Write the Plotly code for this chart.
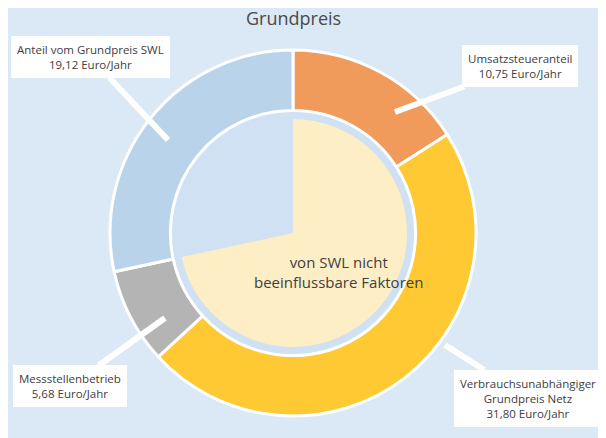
import plotly.graph_objects as go

labels = ["Umsatzsteueranteil", "Verbrauchsunabhängiger Grundpreis Netz", "Messstellenbetrieb", "Anteil vom Grundpreis SWL"]
values = [10.75, 31.80, 5.68, 19.12]
colors = ["#f09a5c", "#ffc933", "#b4b4b4", "#b9d3ea"]
inner_labels = ["von SWL nicht beeinflussbare Faktoren", "SWL"]
inner_values = [10.75 + 31.80 + 5.68, 19.12]

# page has 8px body margin, so the figure is 598x430 shifted by 8px
OFF = 8
W, H = 606 - OFF, 438 - OFF
cx, cy = 293, 233


def px_x(x):
    return (x - OFF) / W


def px_y(y):
    return 1 - (y - OFF) / H


fig = go.Figure()
fig.add_trace(go.Pie(
    labels=labels, values=values, sort=False, direction="clockwise", rotation=0,
    hole=0.67, marker=dict(colors=colors, line=dict(color="white", width=3)),
    textinfo="none", hoverinfo="label+value", showlegend=False,
    domain=dict(x=[px_x(cx - 183), px_x(cx + 183)], y=[px_y(cy + 183), px_y(cy - 183)]),
))
fig.add_trace(go.Pie(
    labels=inner_labels, values=inner_values, sort=False, direction="clockwise", rotation=0,
    marker=dict(colors=["#fdeec6", "rgba(0,0,0,0)"], line=dict(width=0)),
    textinfo="none", hoverinfo="label", showlegend=False,
    domain=dict(x=[px_x(cx - 114), px_x(cx + 114)], y=[px_y(cy + 114), px_y(cy - 114)]),
))

# pale ring behind inner pie
fig.add_shape(type="circle", xref="paper", yref="paper", layer="below",
              x0=px_x(cx - 123), x1=px_x(cx + 123), y0=px_y(cy + 123), y1=px_y(cy - 123),
              fillcolor="#cfe1f2", line=dict(color="#b3cde6", width=1))

box = dict(bgcolor="white", bordercolor="white", borderpad=5, showarrow=True,
           arrowhead=0, arrowwidth=6, arrowcolor="white", align="center",
           font=dict(family="Open Sans", size=11.5, color="#404040"),
           xref="paper", yref="paper", axref="pixel", ayref="pixel")
callouts = [
    ("Anteil vom Grundpreis SWL<br>19,12 Euro/Jahr", 168, 140, -78, -83),
    ("Umsatzsteueranteil<br>10,75 Euro/Jahr", 395, 112, 125, -46),
    ("Messstellenbetrieb<br>5,68 Euro/Jahr", 165, 318, -95, 68),
    ("Verbrauchsunabhängiger<br>Grundpreis Netz<br>31,80 Euro/Jahr", 445, 345, 83, 53),
]
annotations = []
for text, x, y, ax, ay in callouts:
    a = dict(box, text=text, x=px_x(x), y=px_y(y), ax=ax, ay=ay)
    annotations.append(a)
annotations.append(dict(text="Grundpreis", x=px_x(cx), y=px_y(18), xref="paper", yref="paper",
                        yanchor="middle", showarrow=False,
                        font=dict(family="Open Sans", size=18, color="#4a4a4a")))
annotations.append(dict(text="von SWL nicht<br>beeinflussbare Faktoren", x=px_x(338), y=px_y(272),
                        xref="paper", yref="paper", yanchor="middle", showarrow=False,
                        font=dict(family="Open Sans", size=15, color="#404040")))

fig.update_layout(width=W, height=H, margin=dict(l=0, r=0, t=0, b=0),
                  paper_bgcolor="#dbe8f5", annotations=annotations)
fig.write_html("out.html")
